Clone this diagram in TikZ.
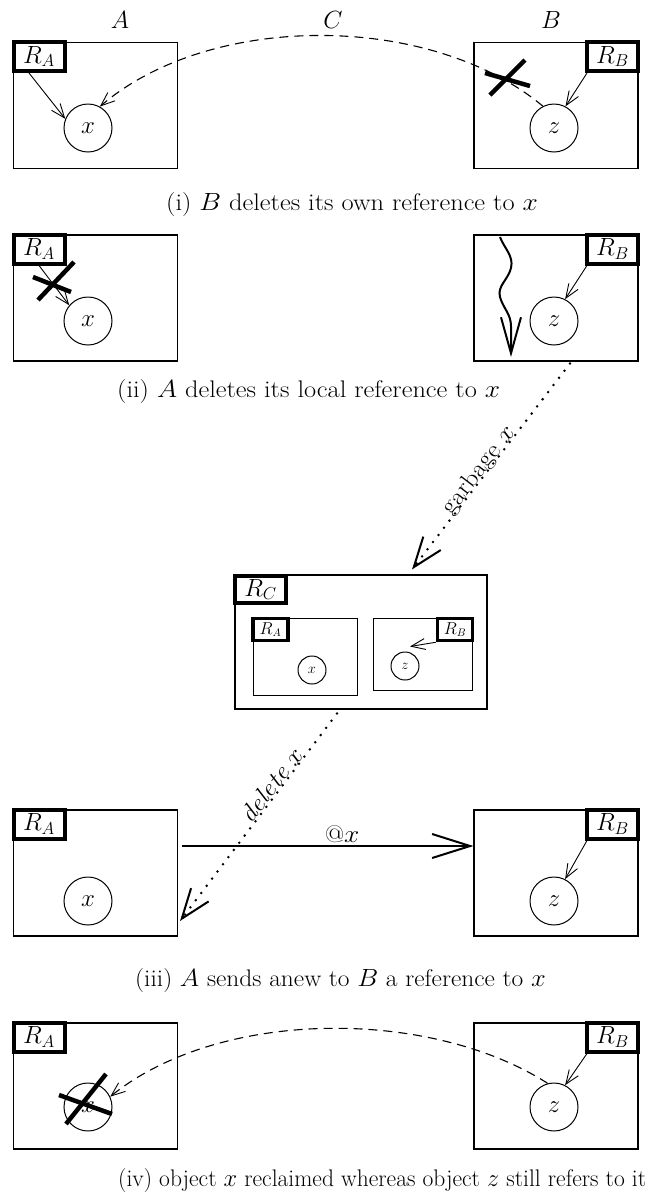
\documentclass[tikz,border=0pt]{standalone}
\usepackage{graphicx}
\usetikzlibrary{arrows.meta,calc}
\newcommand{\wtext}[2][1.1]{\scalebox{#1}[1]{#2}}
\begin{document}
\begin{tikzpicture}[x=1pt,y=-1pt,
  font=\fontsize{24}{28}\selectfont,
  proc/.style={draw, line width=1.1pt, inner sep=0pt, minimum width=164pt, minimum height=126pt},
  refbox/.style={draw, line width=4pt, inner sep=0pt, minimum width=51pt, minimum height=29pt},
  srefbox/.style={draw, line width=3.5pt, inner sep=0pt, minimum width=35pt, minimum height=22pt, font=\fontsize{16}{18}\selectfont},
  inbox/.style={draw, line width=1pt, inner sep=0pt},
  obj/.style={draw, circle, line width=1pt, minimum size=48pt, inner sep=0pt},
  sobj/.style={draw, circle, line width=1pt, minimum size=28pt, inner sep=0pt, font=\fontsize{14}{16}\selectfont},
  ptr/.style={line width=0.9pt, -{Straight Barb[length=14pt,width=11pt,line width=0.9pt]}},
  dashref/.style={line width=1.1pt, dash pattern=on 9pt off 6pt, -{Straight Barb[length=14pt,width=11pt,line width=0.9pt]}},
  crossmark/.style={line width=4.5pt},
  dotarrow/.style={line width=2.8pt, line cap=round, dash pattern=on 0pt off 9pt, -{Straight Barb[length=30pt,width=22pt,line width=2pt]}},
  bigarrow/.style={line width=2pt, -{Straight Barb[length=38pt,width=24pt,line width=2pt]}},
  wavy/.style={line width=2pt, -{Straight Barb[length=36pt,width=20pt,line width=2pt]}},
  caption/.style={anchor=base west, inner sep=0pt}
]
\useasboundingbox (0,0) rectangle (664,1195);

% ---------- panel (i)
\node (lA) at (120,20) {$A$};
\node (lC) at (333,20) {$C$};
\node (lB) at (551,20) {$B$};
\node[proc] (a1) at (95.5,105.5) {};
\node[proc] (b1) at (556,105.5) {};
\node[obj] (x1) at (88,128) {$x$};
\node[obj] (z1) at (554,128) {$z$};
\node[refbox] (ra1) at (39,56.5) {$R_A$};
\node[refbox] (rb1) at (612.5,56.5) {$R_B$};
\draw[ptr] ([xshift=-10pt]ra1.south) -- (x1.158);
\draw[ptr] ([xshift=2pt]rb1.south west) -- (z1.62);
\draw[dashref] (z1.117) .. controls (430,12) and (210,12) .. (x1.61);
\draw[crossmark] (485,73) -- (530,86);
\draw[crossmark] (490,95) -- (525,60);
\node[caption] (cap1) at (166,210) {\wtext{(i) $B$ deletes its own reference to $x$}};

% ---------- panel (ii)
\node[proc] (a2) at (95.5,298) {};
\node[proc] (b2) at (556,298) {};
\node[obj] (x2) at (88,321) {$x$};
\node[obj] (z2) at (554,321) {$z$};
\node[refbox] (ra2) at (39,249) {$R_A$};
\node[refbox] (rb2) at (612.5,249) {$R_B$};
\draw[ptr] (ra2.south) -- (x2.140);
\draw[ptr] ([xshift=2pt]rb2.south west) -- (z2.63);
\draw[crossmark] (33,277) -- (71,292);
\draw[crossmark] (38,300) -- (74,262);
\draw[wavy] (500,237) .. controls (504,248) and (514,256) .. (511,268)
   .. controls (508,280) and (497,286) .. (500,297)
   .. controls (503,308) and (511,314) .. (511,326) -- (511,357);
\node[caption] (cap2) at (117,397) {\wtext{(ii) $A$ deletes its local reference to $x$}};

% ---------- container C
\node[draw, line width=1.1pt, inner sep=0pt, minimum width=252pt, minimum height=134pt] (cbox) at (361,642) {};
\node[refbox, minimum width=51pt, minimum height=27pt] (rc) at (260.5,589.5) {$R_C$};
\node[inbox, minimum width=104pt, minimum height=77pt] (ia) at (305,656.5) {};
\node[inbox, minimum width=99pt, minimum height=72pt] (ib) at (422.5,654) {};
\node[sobj] (sx) at (312,670) {$x$};
\node[sobj] (sz) at (405,666) {$z$};
\node[srefbox] (sra) at (270.5,629.5) {$R_A$};
\node[srefbox] (srb) at (455,629.5) {$R_B$};
\draw[ptr] (srb.south west) -- ($(sz.north)+(5,-5)$);

\draw[dotarrow] ($(b2.south)+(14,2)$) -- node[sloped, anchor=base, inner sep=0pt, yshift=1pt, pos=0.54] (lg) {\wtext{garbage $x$}} ($(cbox.north)+(51,-5)$);
\draw[dotarrow] ($(cbox.south)+(-24,4)$) -- node[sloped, anchor=base, inner sep=0pt, yshift=1pt, pos=0.37] (ld) {\wtext{\textit{delete} $x$}} (180,921);

% ---------- panel (iii)
\node[proc] (a3) at (95.5,873) {};
\node[proc] (b3) at (556,873) {};
\node[obj] (x3) at (88,901) {$x$};
\node[obj] (z3) at (554,901) {$z$};
\node[refbox] (ra3) at (39,824) {$R_A$};
\node[refbox] (rb3) at (612.5,824) {$R_B$};
\draw[ptr] ([xshift=2pt]rb3.south west) -- (z3.63);
\coordinate (hs) at (182,846);
\draw[bigarrow] (hs) -- node[above, pos=0.55, inner sep=2pt] (lat) {\wtext{@$x$}} (b3.west |- hs);
\node[caption] (cap3) at (135,986) {\wtext[1.06]{(iii) $A$ sends anew to $B$ a reference to $x$}};

% ---------- panel (iv)
\node[proc] (a4) at (95.5,1086) {};
\node[proc] (b4) at (556,1086) {};
\node[obj] (x4) at (88,1107) {$x$};
\node[obj] (z4) at (554,1107) {$z$};
\node[refbox] (ra4) at (39,1037) {$R_A$};
\node[refbox] (rb4) at (612.5,1037) {$R_B$};
\draw[ptr] ([xshift=2pt]rb4.south west) -- (z4.63);
\draw[dashref] (z4.105) .. controls (430,1008) and (220,1008) .. (x4.25);
\draw[crossmark] (59,1095) -- (112,1114);
\draw[crossmark] (66,1124) -- (106,1074);
\node[caption] (cap4) at (118,1186) {\wtext[0.98]{(iv) object $x$ reclaimed whereas object $z$ still refers to it}};
\end{tikzpicture}
\end{document}
